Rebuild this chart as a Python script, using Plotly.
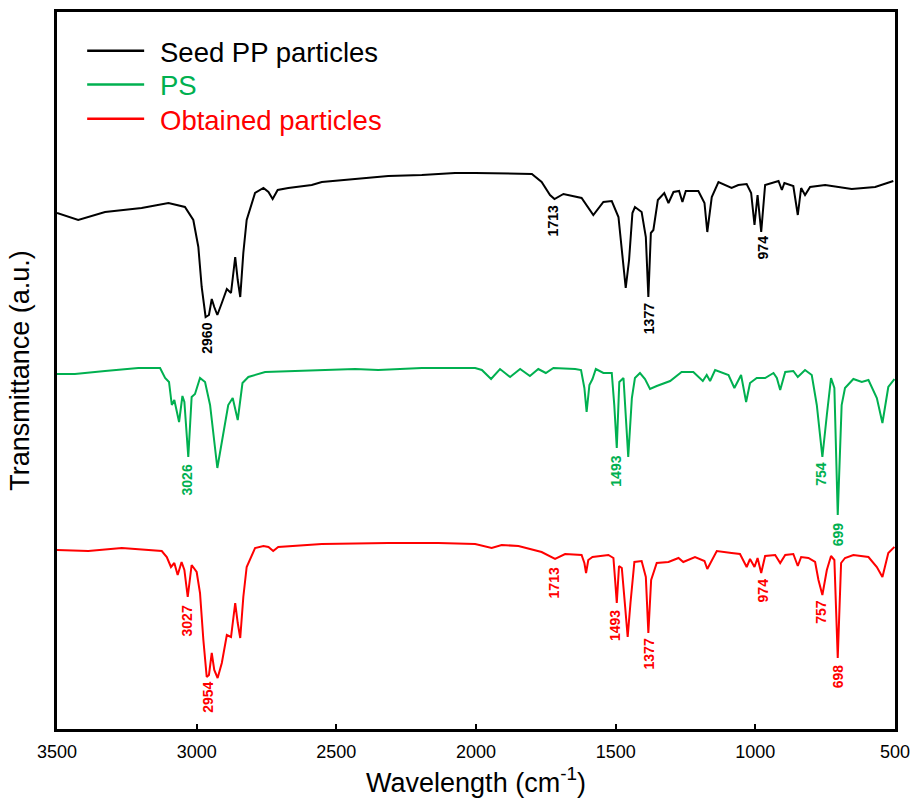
import plotly.graph_objects as go

# ---------------- data ----------------
pp_wn = [3500, 3424, 3328, 3197, 3101, 3042, 3012, 2994, 2982, 2968, 2956, 2946, 2937, 2926,
         2910, 2892, 2877, 2862, 2853, 2844, 2833, 2821, 2791, 2761, 2743, 2728, 2710, 2672,
         2588, 2552, 2433, 2314, 2194, 2075, 2003, 1800, 1765, 1735, 1719, 1687, 1622, 1580,
         1544, 1514, 1490, 1478, 1464, 1452, 1440, 1431, 1407, 1392, 1383, 1374, 1365, 1349,
         1326, 1311, 1293, 1273, 1261, 1249, 1204, 1182, 1172, 1156, 1132, 1085, 1061, 1031,
         1015, 1003, 992, 979, 965, 917, 905, 896, 864, 848, 836, 822, 804, 750, 655, 571, 506]
pp_t = [516, 509, 517, 521, 526, 522, 509, 482, 442, 412, 414, 430, 422, 414,
        426, 440, 436, 472, 449, 432, 476, 509, 536, 541, 537, 530, 539, 541,
        544, 547, 550, 553, 554, 556, 556, 555, 547, 534, 530, 535, 531, 514,
        527, 528, 512, 476, 441, 469, 516, 522, 517, 492, 432, 496, 499, 529,
        536, 526, 537, 538, 527, 538, 538, 526, 497, 532, 547, 541, 544, 545,
        536, 504, 534, 497, 544, 548, 539, 546, 543, 514, 541, 534, 542, 544, 540, 542, 548]

ps_wn = [3500, 3436, 3328, 3209, 3131, 3113, 3099, 3089, 3080, 3074, 3063, 3051, 3044, 3030,
         3018, 3006, 2988, 2970, 2952, 2926, 2905, 2887, 2871, 2853, 2836, 2815, 2755, 2612,
         2433, 2350, 2194, 2003, 1979, 1946, 1914, 1878, 1842, 1807, 1777, 1750, 1723, 1645,
         1624, 1612, 1604, 1594, 1583, 1571, 1544, 1514, 1505, 1496, 1487, 1472, 1466, 1455,
         1442, 1431, 1413, 1395, 1377, 1353, 1305, 1264, 1222, 1188, 1174, 1162, 1144, 1096,
         1075, 1051, 1033, 1019, 995, 965, 935, 923, 911, 893, 864, 848, 822, 798, 780, 760,
         744, 729, 717, 705, 691, 679, 649, 619, 595, 565, 545, 524, 502]
ps_t = [355, 355, 358, 361, 361, 351, 347, 324, 329, 322, 307, 333, 327, 272,
        332, 335, 351, 347, 324, 261, 294, 324, 331, 309, 346, 352, 357, 358,
        360, 359, 361, 361, 359, 350, 360, 352, 360, 353, 360, 356, 361, 360,
        359, 341, 317, 344, 350, 360, 356, 356, 324, 281, 347, 351, 324, 272,
        331, 351, 356, 350, 340, 343, 348, 357, 357, 348, 354, 348, 359, 354,
        341, 354, 327, 346, 351, 351, 356, 351, 339, 357, 358, 352, 359, 354, 324, 272,
        314, 351, 341, 214, 324, 341, 350, 347, 349, 331, 306, 342, 350]

ob_wn = [3500, 3388, 3268, 3149, 3125, 3107, 3092, 3080, 3068, 3054, 3044, 3032, 3018, 3000,
         2988, 2976, 2964, 2956, 2946, 2937, 2925, 2910, 2892, 2877, 2862, 2853, 2844, 2833,
         2821, 2791, 2761, 2743, 2726, 2708, 2552, 2314, 2135, 2003, 1944, 1908, 1848, 1765,
         1717, 1681, 1622, 1612, 1606, 1598, 1583, 1526, 1508, 1502, 1496, 1488, 1478, 1466,
         1457, 1447, 1433, 1407, 1392, 1383, 1373, 1353, 1311, 1275, 1258, 1216, 1182, 1172,
         1156, 1138, 1085, 1055, 1031, 1019, 1003, 992, 979, 965, 929, 911, 893, 864, 848,
         836, 810, 786, 774, 760, 744, 729, 717, 705, 693, 679, 649, 595, 565, 545, 524, 502]
ob_t = [179, 178, 181, 179, 178, 172, 162, 166, 154, 167, 159, 132, 164, 157,
        136, 89, 52, 54, 76, 59, 51, 66, 94, 92, 126, 106, 91, 132,
        162, 181, 183, 182, 178, 182, 185, 186, 186, 185, 181, 184, 183, 177,
        170, 175, 174, 166, 156, 169, 172, 174, 171, 149, 126, 163, 161, 122,
        92, 126, 167, 168, 152, 96, 149, 166, 167, 171, 167, 172, 168, 160,
        169, 178, 176, 175, 162, 170, 162, 171, 156, 173, 174, 166, 174, 175, 163,
        172, 171, 167, 149, 134, 159, 173, 169, 71, 166, 171, 174, 172, 162, 152, 176, 182]

series_names = ["Seed PP particles", "PS", "Obtained particles"]
series_colors = ["#000000", "#00B050", "#FF0000"]

# peak labels: text, label x (cm-1), label y (a.u.)
pp_lab = ["2960", "1713", "1377", "974"]
pp_lab_x = [2964, 1723, 1380, 971]
pp_lab_y = [391, 508, 410, 482]

ps_lab = ["3026", "1493", "754", "699"]
ps_lab_x = [3033, 1500, 766, 703]
ps_lab_y = [249, 258, 255, 195]

ob_lab = ["3027", "2954", "1713", "1493", "1377", "974", "757", "698"]
ob_lab_x = [3033, 2962, 1721, 1502, 1379, 971, 766, 703]
ob_lab_y = [108, 31.5, 146.5, 103, 75, 139, 117, 53]

x_ticks = [3500, 3000, 2500, 2000, 1500, 1000, 500]

# ---------------- figure ----------------
FONT = "Liberation Sans, Arial, sans-serif"
fig = go.Figure()

for wn, t, name, col in zip([pp_wn, ps_wn, ob_wn], [pp_t, ps_t, ob_t], series_names, series_colors):
    fig.add_trace(go.Scatter(x=wn, y=t, mode="lines", name=name,
                             line=dict(color=col, width=2), showlegend=False))

annotations = []
for labs, lx, ly, col in [(pp_lab, pp_lab_x, pp_lab_y, series_colors[0]),
                          (ps_lab, ps_lab_x, ps_lab_y, series_colors[1]),
                          (ob_lab, ob_lab_x, ob_lab_y, series_colors[2])]:
    for txt, x, y in zip(labs, lx, ly):
        annotations.append(dict(x=x, y=y, xref="x", yref="y", text=txt, showarrow=False,
                                textangle=-90, xanchor="center", yanchor="middle",
                                font=dict(family=FONT, size=14, color=col, weight="bold")))

# manual legend (line samples + coloured text)
legend_rows = [0.946, 0.899, 0.851]
shapes = []
for name, col, yr in zip(series_names, series_colors, legend_rows):
    shapes.append(dict(type="line", xref="paper", yref="paper", x0=0.036, x1=0.104,
                       y0=yr, y1=yr, line=dict(color=col, width=2.5)))
    annotations.append(dict(x=0.121, y=yr - 0.002, xref="paper", yref="paper", text=name,
                            showarrow=False, xanchor="left", yanchor="middle",
                            font=dict(family=FONT, size=27.5, color=col)))

fig.update_layout(
    width=912, height=798,
    margin=dict(l=57, r=17, t=12, b=69),
    paper_bgcolor="white", plot_bgcolor="white",
    annotations=annotations, shapes=shapes,
    font=dict(family=FONT, color="black"),
)
fig.update_xaxes(
    range=[3500, 500], tickvals=x_ticks, ticktext=[str(v) for v in x_ticks],
    ticks="inside", ticklen=5, tickwidth=2, tickcolor="black",
    showline=True, linecolor="black", linewidth=2.5, mirror=True,
    showgrid=False, zeroline=False, automargin=False,
    ticklabelstandoff=5,
    tickfont=dict(family=FONT, size=18, color="black"),
    title=dict(text="Wavelength (cm<sup>-1</sup>)", font=dict(family=FONT, size=27, color="black"),
               standoff=12),
)
fig.update_yaxes(
    range=[0, 717], showticklabels=False, ticks="",
    showline=True, linecolor="black", linewidth=2.5, mirror=True,
    showgrid=False, zeroline=False, automargin=False,
    title=dict(text="Transmittance (a.u.)", font=dict(family=FONT, size=27, color="black"),
               standoff=17),
)

fig.write_html("out.html", config={"displayModeBar": False},
               post_script="document.body.style.margin='0';document.body.style.overflow='hidden';")
